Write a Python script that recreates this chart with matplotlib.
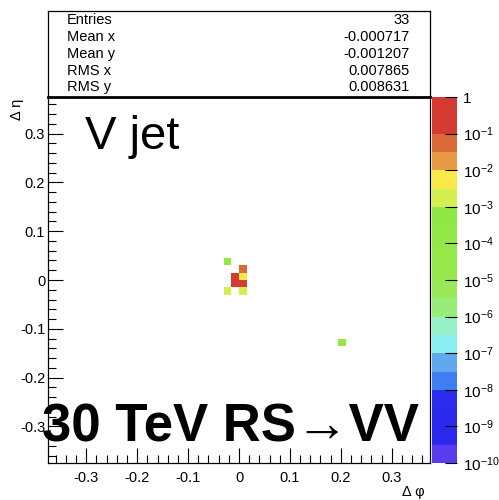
import numpy as np
import matplotlib
matplotlib.use("Agg")
import matplotlib.pyplot as plt
from matplotlib.colors import ListedColormap, BoundaryNorm
from matplotlib.ticker import MultipleLocator, LogLocator, FixedLocator, NullFormatter

plt.rcParams['font.family'] = ['Liberation Sans', 'DejaVu Sans']
plt.rcParams['mathtext.default'] = 'regular'

# ---- data (bin centres and contents) ----
dphi = [-0.0225, 0.0075, 0.0075, -0.0075, -0.0075, 0.0075, -0.0225, 0.0075, 0.2025]
deta = [0.0375, 0.0225, 0.0075, 0.0075, -0.0075, -0.0075, -0.0225, -0.0225, -0.1275]
content = [2e-4, 5e-2, 5e-3, 0.3, 0.3, 0.2, 2e-3, 2e-3, 2e-4]

stats_names = ["Entries", "Mean x", "Mean y", "RMS x", "RMS y"]
stats_values = ["33", "-0.000717", "-0.001207", "0.007865", "0.008631"]

xticks = [-0.3, -0.2, -0.1, 0, 0.1, 0.2, 0.3]
yticks = [-0.3, -0.2, -0.1, 0, 0.1, 0.2, 0.3]
cbar_ticks = [1e-10, 1e-9, 1e-8, 1e-7, 1e-6, 1e-5, 1e-4, 1e-3, 1e-2, 1e-1, 1]
cbar_labels = ["$10^{-10}$", "$10^{-9}$", "$10^{-8}$", "$10^{-7}$", "$10^{-6}$",
               "$10^{-5}$", "$10^{-4}$", "$10^{-3}$", "$10^{-2}$", "$10^{-1}$", "1"]

# palette: one colour per half decade, from 1e-10 up to 1
palette = ["#5a3cf0", "#2c28ee", "#2a2aee", "#2a2cf0", "#3e7ef0", "#60a8f0",
           "#88eef2", "#98f0c8", "#98ec78", "#98e858", "#96e84c", "#94e848",
           "#92e846", "#90e844", "#d4f050", "#f8e848", "#e89a42", "#dc6a38",
           "#d43c32", "#d43a30"]

edges = np.linspace(-0.375, 0.375, 51)
H, xe, ye = np.histogram2d(dphi, deta, bins=[edges, edges], weights=content)
H = np.ma.masked_less_equal(H, 0)

cmap = ListedColormap(palette)
bounds = 10.0 ** np.arange(-10, 0.01, 0.5)
norm = BoundaryNorm(bounds, cmap.N)

fig = plt.figure(figsize=(4.99, 5.00), dpi=100)
W, Hh = 499, 500
ax = fig.add_axes([48 / W, 1 - 463 / Hh, 382 / W, 366 / Hh])
mesh = ax.pcolormesh(xe, ye, H.T, cmap=cmap, norm=norm)
ax.set_xlim(-0.375, 0.375)
ax.set_ylim(-0.375, 0.375)

ax.xaxis.set_major_locator(FixedLocator(xticks))
ax.yaxis.set_major_locator(FixedLocator(yticks))
ax.set_xticklabels([f"{t:g}" for t in xticks])
ax.set_yticklabels([f"{t:g}" for t in yticks])
ax.xaxis.set_minor_locator(MultipleLocator(0.02))
ax.yaxis.set_minor_locator(MultipleLocator(0.02))
ax.tick_params(which='both', direction='in', top=False, right=False, labelsize=10.5, width=0.8)
ax.tick_params(which='major', length=11)
ax.tick_params(which='minor', length=6)
ax.tick_params(axis='x', pad=6)
ax.tick_params(axis='y', pad=2)
for s in ax.spines.values():
    s.set_linewidth(0.9)

ax.set_xlabel("Δ φ", loc='right', fontsize=10.5)
ax.set_ylabel("Δ η", loc='top', fontsize=10.5)
ax.xaxis.set_label_coords(1 - 5 / 382, -22 / 366)
ax.yaxis.set_label_coords(-24 / 382, 1 - 2 / 366)

# overlaid big labels
fig.text(85 / W, 1 - 149 / Hh, "V jet", fontsize=34,
         color='black', ha='left', va='baseline', zorder=10)
fig.text(42 / W, 1 - 441 / Hh, "30 TeV RS→VV", fontsize=38, fontweight='bold',
         color='black', ha='left', va='baseline', zorder=10)

# colour bar
cax = fig.add_axes([432 / W, 1 - 463 / Hh, 25 / W, 366 / Hh])
cb = fig.colorbar(mesh, cax=cax, ticks=cbar_ticks, spacing='proportional')
cb.outline.set_visible(False)
cax.set_yscale('log')
cax.set_ylim(1e-10, 1)
cax.yaxis.set_major_locator(FixedLocator(cbar_ticks))
cax.set_yticklabels(cbar_labels)
cax.yaxis.set_minor_locator(LogLocator(base=10, subs=np.arange(2, 10)))
cax.yaxis.set_minor_formatter(NullFormatter())
cax.tick_params(which='both', direction='in', right=True, left=False, labelsize=11, width=0.8)
cax.tick_params(which='major', length=9, pad=4)
cax.tick_params(which='minor', length=5)

# statistics box
sax = fig.add_axes([48 / W, 1 - 97 / Hh, 382 / W, 86 / Hh])
sax.set_xticks([])
sax.set_yticks([])
for s in sax.spines.values():
    s.set_linewidth(0.9)
sax.spines['bottom'].set_linewidth(2)
ys = [20, 37, 54, 71, 87]
for name, val, yy in zip(stats_names, stats_values, ys):
    fig.text(67 / W, 1 - yy / Hh, name, fontsize=10.5, va='center', ha='left')
    fig.text(410 / W, 1 - yy / Hh, val, fontsize=10.5, va='center', ha='right')

fig.savefig("out.png", dpi=100)
